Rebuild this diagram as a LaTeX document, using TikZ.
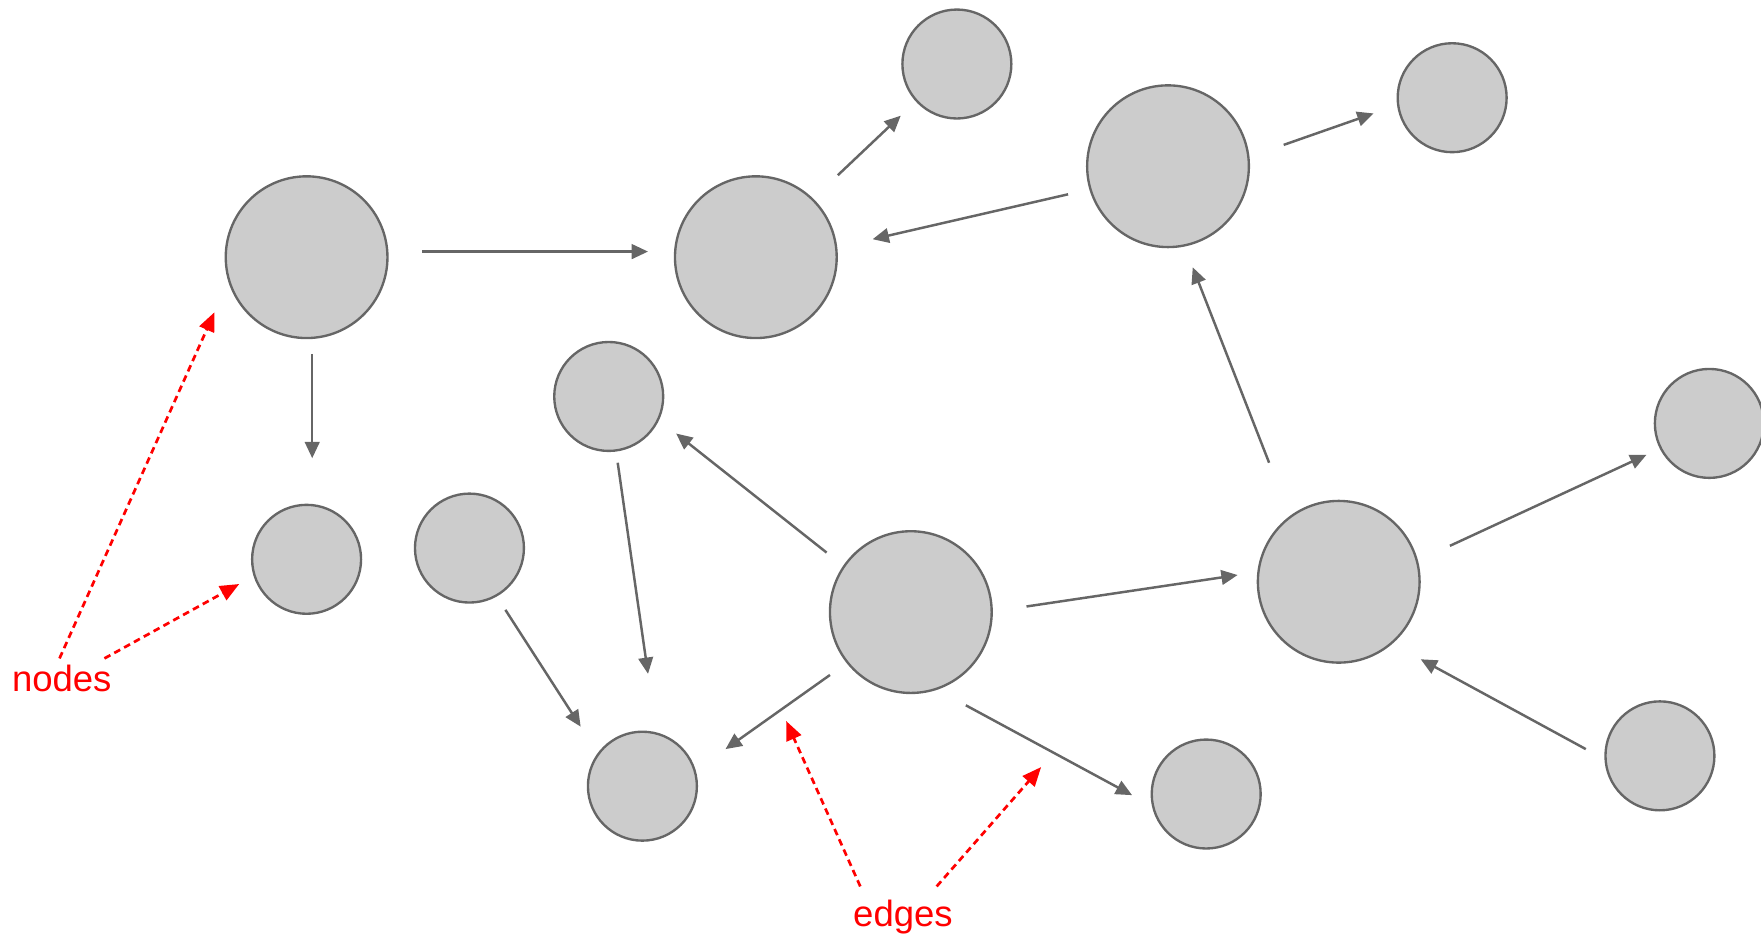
\documentclass[tikz,border=0pt]{standalone}
\usepackage{fontspec}
\setmainfont{Liberation Sans}
\usetikzlibrary{arrows.meta,calc}
\definecolor{nodefill}{HTML}{CCCCCC}
\definecolor{nodeline}{HTML}{666666}
\definecolor{annot}{HTML}{FF0000}
\begin{document}
\begin{tikzpicture}[x=1pt,y=-1pt,
  bignode/.style={circle,draw=nodeline,fill=nodefill,line width=2.1pt,minimum size=144pt,inner sep=0pt},
  smallnode/.style={circle,draw=nodeline,fill=nodefill,line width=2.1pt,minimum size=97pt,inner sep=0pt},
  edgeline/.style={draw=nodeline,line width=2.2pt,-{Triangle[length=14.5pt,width=13pt]}},
  annotline/.style={draw=annot,line width=2.4pt,dash pattern=on 6pt off 4pt,-{Triangle[length=17pt,width=14pt]}},
  annottext/.style={text=annot,font=\fontsize{32.5}{38}\selectfont,inner sep=0pt,anchor=base}
]
\useasboundingbox (0,0) rectangle (1568,833);
% nodes
\node[bignode] (A) at (273,229) {};
\node[bignode] (B) at (673,229) {};
\node[smallnode] (C) at (852,57) {};
\node[bignode] (D) at (1040,148) {};
\node[smallnode] (E) at (1293,87) {};
\node[smallnode] (F) at (542,353) {};
\node[smallnode] (G) at (273,498) {};
\node[smallnode] (H) at (418,488) {};
\node[bignode] (I) at (811,545) {};
\node[bignode] (J) at (1192,518) {};
\node[smallnode] (K) at (1522,377) {};
\node[smallnode] (L) at (572,700) {};
\node[smallnode] (M) at (1074,707) {};
\node[smallnode] (N) at (1478,673) {};
% edges
\draw[edgeline] ($(A.center)+(103,-5)$) -- ($(B.center)+(-96,-5)$);
\draw[edgeline] ($(A.center)+(5,86)$) -- ($(G.center)+(5,-90)$);
\draw[edgeline] ($(B.center)+(73,-73)$) -- ($(C.center)+(-50,46)$);
\draw[edgeline] ($(D.center)+(-89,25)$) -- ($(B.center)+(104,-16)$);
\draw[edgeline] ($(D.center)+(103,-19)$) -- ($(E.center)+(-70,14)$);
\draw[edgeline] ($(J.center)+(-62,-106)$) -- ($(D.center)+(22,90)$);
\draw[edgeline] ($(I.center)+(-75,-53)$) -- ($(F.center)+(60,33)$);
\draw[edgeline] ($(F.center)+(8,59)$) -- ($(L.center)+(5,-100)$);
\draw[edgeline] ($(H.center)+(32,55)$) -- ($(L.center)+(-55,-53)$);
\draw[edgeline] ($(I.center)+(-72,56)$) -- ($(L.center)+(74,-33)$);
\draw[edgeline] ($(I.center)+(103,-5)$) -- ($(J.center)+(-90,-6)$);
\draw[edgeline] ($(I.center)+(49,83)$) -- ($(M.center)+(-66,1)$);
\draw[edgeline] ($(J.center)+(99,-32)$) -- ($(K.center)+(-56,28)$);
\draw[edgeline] ($(N.center)+(-66,-6)$) -- ($(J.center)+(73,69)$);
% annotations
\node[annottext] (nodes) at (55,616) {nodes};
\node[annottext] (edges) at (804,825) {edges};
\coordinate (e1) at (700,642);
\coordinate (e2) at (927,683);
\draw[annotline] ($(nodes.north)+(-2,-6)$) -- ($(A.center)+(-82,49)$);
\draw[annotline] ($(nodes.north)+(38,-6)$) -- ($(G.center)+(-60,22)$);
\draw[annotline] ($(edges.north)+(-38,-12)$) -- (e1);
\draw[annotline] ($(edges.north)+(30,-12)$) -- (e2);
\end{tikzpicture}
\end{document}
